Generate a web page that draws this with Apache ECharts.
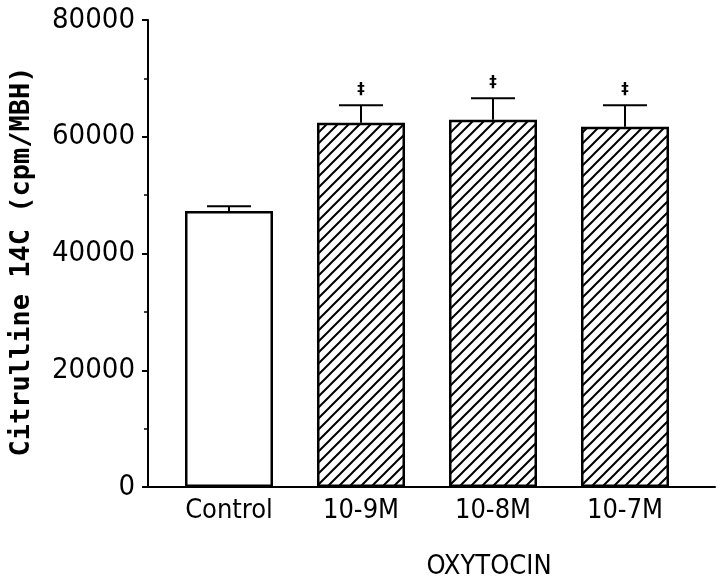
<!DOCTYPE html>
<html>
<head>
<meta charset="utf-8">
<style>
  html, body { margin: 0; padding: 0; background: #fff; }
  #chart { width: 723px; height: 585px; }
</style>
<script src="https://cdn.jsdelivr.net/npm/echarts@6/dist/echarts.min.js"></script>
</head>
<body>
<div id="chart"></div>
<script>
// values
var categories = ['Control', '10-9M', '10-8M', '10-7M']
var means = [47300, 62400, 62900, 61700]
var errTops = [48100, 65400, 66600, 65400]
var hatched = [false, true, true, true]
var marks = ['', '‡', '‡', '‡']

var narrow = "'Liberation Sans Narrow', 'DejaVu Sans Condensed', sans-serif"

// diagonal hatch /////
function hatch() {
  var c = document.createElement('canvas')
  c.width = 11
  c.height = 11
  var ctx = c.getContext('2d')
  ctx.fillStyle = '#fff'
  ctx.fillRect(0, 0, 11, 11)
  ctx.strokeStyle = '#000'
  ctx.lineWidth = 2
  ctx.beginPath()
  ctx.moveTo(-2, 13); ctx.lineTo(13, -2)
  ctx.moveTo(-2, 2); ctx.lineTo(2, -2)
  ctx.moveTo(9, 13); ctx.lineTo(13, 9)
  ctx.stroke()
  return c
}
var pattern = { image: hatch(), repeat: 'repeat' }

var chart = echarts.init(document.getElementById('chart'))

chart.setOption({
  animation: false,
  backgroundColor: '#fff',
  grid: [
    { left: 143, right: 8, top: 20, bottom: 98 },
    { left: 163, width: 528, top: 20, bottom: 98 }
  ],
  xAxis: [{
    type: 'value',
    gridIndex: 0,
    min: 0,
    max: 1,
    axisLine: { show: true, lineStyle: { color: '#000', width: 2 } },
    axisTick: { show: false },
    axisLabel: { show: false },
    splitLine: { show: false }
  }, {
    type: 'category',
    gridIndex: 1,
    data: categories,
    axisLine: { show: false },
    axisTick: { show: false },
    axisLabel: { margin: 10, color: '#000', fontSize: 27, fontFamily: narrow },
    name: 'OXYTOCIN',
    nameLocation: 'middle',
    nameGap: 66,
    nameTextStyle: {
      color: '#000', fontSize: 27, fontFamily: narrow,
      padding: [0, 0, 0, 124]
    }
  }],
  yAxis: [{
    type: 'value',
    gridIndex: 0,
    min: 0,
    max: 80000,
    interval: 20000,
    axisLine: { show: true, lineStyle: { color: '#000', width: 2 } },
    axisTick: { show: true, length: 6, lineStyle: { color: '#000', width: 2 } },
    minorTick: { show: true, splitNumber: 2, length: 4, lineStyle: { color: '#000', width: 1.5 } },
    axisLabel: {
      margin: 13, color: '#000', fontSize: 29, fontFamily: narrow,
      formatter: function (v) { return String(v) }
    },
    splitLine: { show: false },
    name: 'Citrulline 14C (cpm/MBH)',
    nameLocation: 'middle',
    nameRotate: 90,
    nameGap: 113,
    nameTextStyle: {
      color: '#000', fontSize: 27, fontWeight: 'bold',
      fontFamily: "'DejaVu Sans Mono', monospace",
      padding: [0, 16, 0, 0]
    }
  }, {
    type: 'value',
    gridIndex: 1,
    min: 0,
    max: 80000,
    show: false
  }],
  series: [{
    type: 'bar',
    xAxisIndex: 1,
    yAxisIndex: 1,
    barWidth: 88,
    data: means.map(function (v, i) {
      return {
        value: v,
        itemStyle: { color: hatched[i] ? pattern : '#fff' }
      }
    }),
    itemStyle: { borderColor: '#000', borderWidth: 2.5 }
  }, {
    type: 'custom',
    xAxisIndex: 1,
    yAxisIndex: 1,
    data: means.map(function (v, i) { return [i, v, errTops[i]] }),
    renderItem: function (params, api) {
      var i = api.value(0)
      var base = api.coord([i, api.value(1)])
      var top = api.coord([i, api.value(2)])
      var half = 22
      var style = { stroke: '#000', lineWidth: 2 }
      return {
        type: 'group',
        children: [
          { type: 'line', shape: { x1: base[0], y1: base[1], x2: top[0], y2: top[1] }, style: style },
          { type: 'line', shape: { x1: top[0] - half, y1: top[1], x2: top[0] + half, y2: top[1] }, style: style },
          {
            type: 'text',
            style: {
              text: marks[i], x: top[0], y: top[1] - 15,
              align: 'center', verticalAlign: 'middle',
              fill: '#000', font: 'bold 15px DejaVu Sans'
            }
          }
        ]
      }
    },
    z: 5
  }]
})
</script>
</body>
</html>
